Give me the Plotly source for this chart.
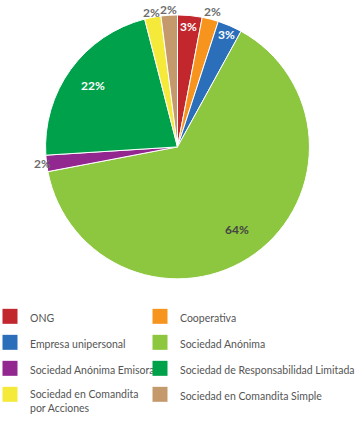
import math
import plotly.graph_objects as go

labels = ["ONG", "Cooperativa", "Empresa unipersonal", "Sociedad Anónima",
          "Sociedad Anónima Emisora", "Sociedad de Responsabilidad Limitada",
          "Sociedad en Comandita<br>por Acciones", "Sociedad en Comandita Simple"]
values = [3, 2, 3, 64, 2, 22, 2, 2]
colors = ["#C1272D", "#F7941D", "#2B6FBA", "#8DC63F", "#92278F", "#00A14B", "#F5EA3A", "#C49A6C"]
# style of the value labels: radial position (fraction of radius) and colour
label_r = [0.92, 1.06, 0.93, 0.77, 1.03, 0.79, 1.04, 1.045]
label_col = ["white", "#6d6d6d", "white", "#444444", "#6d6d6d", "white", "#6d6d6d", "#6d6d6d"]

W, H = 355, 427
dom_x = [0.0, 1.0]
dom_y = [0.347, 0.965]

fig = go.Figure()
fig.add_trace(go.Pie(
    labels=labels, values=values, sort=False, direction="clockwise", rotation=0,
    marker=dict(colors=colors, line=dict(color="white", width=1)),
    textinfo="none", showlegend=False, hoverinfo="label+percent",
    domain=dict(x=dom_x, y=dom_y),
))

# value labels placed at each slice's mid-angle (derived from the data)
cx = (dom_x[0] + dom_x[1]) / 2 * W
cy = (1 - (dom_y[0] + dom_y[1]) / 2) * H
R = min((dom_x[1] - dom_x[0]) * W, (dom_y[1] - dom_y[0]) * H) / 2
total = sum(values)
cum = 0
for v, rf, col in zip(values, label_r, label_col):
    mid = (cum + v / 2) / total * 2 * math.pi
    cum += v
    px = cx + rf * R * math.sin(mid)
    py = cy - rf * R * math.cos(mid)
    fig.add_annotation(x=px / W, y=1 - py / H, xref="paper", yref="paper",
                       text=f"{v}%", showarrow=False,
                       font=dict(family="Lato", size=12, color=col, weight="bold"),
                       xanchor="center", yanchor="middle")

# legend entries (two columns)
for i, (lab, col) in enumerate(zip(labels, colors)):
    fig.add_trace(go.Scatter(
        x=[None], y=[None], mode="markers", name=lab,
        marker=dict(symbol="square", size=15, color=col),
        legend="legend" if i % 2 == 0 else "legend2",
        legendgroup=f"g{i}", showlegend=True,
    ))

leg_common = dict(orientation="v", yanchor="top", xanchor="left", valign="top",
                  tracegroupgap=7, bgcolor="rgba(0,0,0,0)",
                  font=dict(family="Lato", size=10.5, color="#555555"),
                  itemclick=False, itemdoubleclick=False)
fig.update_layout(
    width=W, height=H, margin=dict(l=0, r=0, t=0, b=0, autoexpand=False),
    paper_bgcolor="white", plot_bgcolor="white",
    xaxis=dict(visible=False), yaxis=dict(visible=False),
    legend=dict(x=-10 / W, y=1 - 303 / H, **leg_common),
    legend2=dict(x=140 / W, y=1 - 303 / H, **leg_common),
)
fig.write_html("out.html", config={"displayModeBar": False},
               post_script="document.body.style.margin='0px';")
